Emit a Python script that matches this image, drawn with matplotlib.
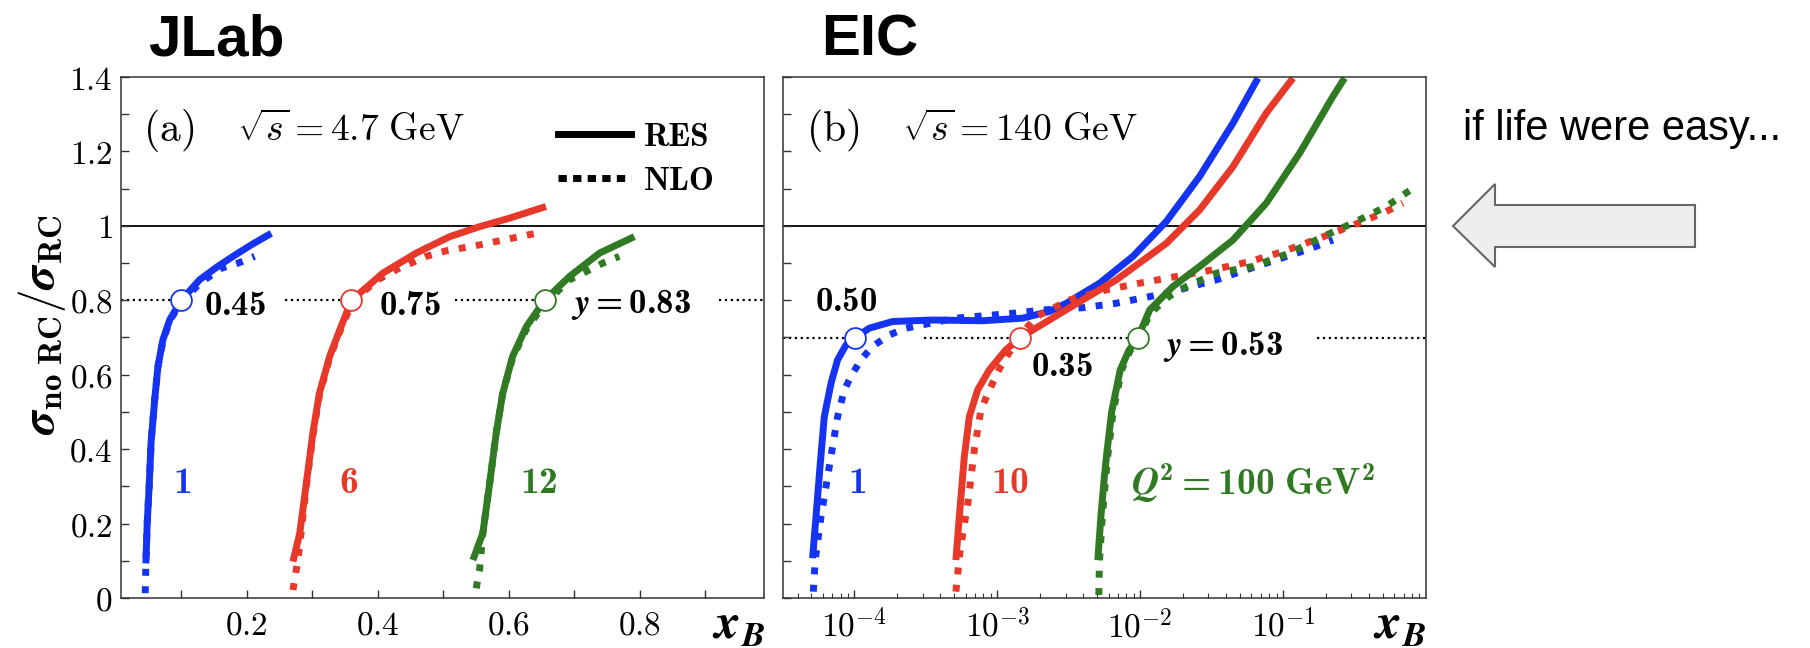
import numpy as np
import matplotlib
matplotlib.use("Agg")
import matplotlib.pyplot as plt
from matplotlib.lines import Line2D
from matplotlib.patches import Polygon
from matplotlib.ticker import FixedLocator, FuncFormatter, MultipleLocator, LogLocator, NullFormatter

plt.rcParams['mathtext.fontset'] = 'cm'
plt.rcParams['mathtext.rm'] = 'cmr10'
plt.rcParams['mathtext.it'] = 'cmmi10'
plt.rcParams['mathtext.bf'] = 'cmb10'
plt.rcParams['mathtext.bfit'] = 'STIXGeneral:italic:bold'
plt.rcParams['font.family'] = 'DejaVu Serif'

BLUE = '#1434f2'
RED = '#e8382a'
GREEN = '#2f7a22'

# ---- (a) JLab, sqrt(s) = 4.7 GeV, linear x_B
a_q2_labels = ['1', '6', '12']
a_y_labels = ['0.45', '0.75', 'y=0.83']
a_circle_x = [0.100, 0.360, 0.6548]
a_res_x = [
    [0.046, 0.048, 0.051, 0.054, 0.0594, 0.0644, 0.072, 0.0823, 0.100, 0.128, 0.155, 0.179, 0.208, 0.2375],
    [0.2706, 0.281, 0.291, 0.301, 0.311, 0.3266, 0.342, 0.360, 0.408, 0.459, 0.510, 0.556, 0.600, 0.657],
    [0.5454, 0.5606, 0.571, 0.581, 0.591, 0.606, 0.627, 0.6548, 0.693, 0.739, 0.792],
]
a_res_y = [
    [0.093, 0.20, 0.30, 0.42, 0.532, 0.622, 0.694, 0.747, 0.80, 0.855, 0.89, 0.918, 0.95, 0.98],
    [0.098, 0.174, 0.308, 0.443, 0.55, 0.649, 0.72, 0.80, 0.873, 0.927, 0.971, 0.998, 1.02, 1.052],
    [0.102, 0.174, 0.308, 0.443, 0.55, 0.649, 0.729, 0.80, 0.864, 0.927, 0.971],
]
a_nlo_x = [
    [0.045, 0.046, 0.048, 0.051, 0.054, 0.0594, 0.0644, 0.072, 0.0823, 0.100, 0.128, 0.161, 0.187, 0.212],
    [0.2706, 0.278, 0.283, 0.291, 0.301, 0.311, 0.3266, 0.342, 0.360, 0.395, 0.428, 0.474, 0.505,
     0.556, 0.600, 0.642],
    [0.5505, 0.5556, 0.5606, 0.571, 0.581, 0.591, 0.606, 0.627, 0.6548, 0.693, 0.718, 0.744, 0.769],
]
a_nlo_y = [
    [0.013, 0.093, 0.20, 0.30, 0.42, 0.532, 0.62, 0.69, 0.745, 0.795, 0.845, 0.886, 0.90, 0.918],
    [0.0215, 0.10, 0.174, 0.300, 0.435, 0.545, 0.645, 0.715, 0.79, 0.85, 0.882, 0.918, 0.933,
     0.949, 0.965, 0.98],
    [0.026, 0.075, 0.174, 0.308, 0.443, 0.55, 0.645, 0.722, 0.79, 0.855, 0.877, 0.90, 0.918],
]

# ---- (b) EIC, sqrt(s) = 140 GeV, log x_B (values given as log10 x_B)
b_q2_labels = ['1', '10', 'Q^2 = 100 GeV^2']
b_y_labels = ['0.50', '0.35', 'y=0.53']
b_circle_logx = [-3.994, -2.839, -2.016]
b_res_logx = [
    [-4.293, -4.269, -4.241, -4.211, -4.164, -4.118, -4.059, -3.994, -3.896, -3.733, -3.453, -3.103,
     -2.823, -2.636, -2.517, -2.284, -2.051, -1.817, -1.584, -1.351, -1.176],
    [-3.290, -3.266, -3.231, -3.196, -3.138, -3.056, -2.940, -2.839, -2.636, -2.403, -2.167, -1.817,
     -1.584, -1.351, -1.118, -0.931],
    [-2.297, -2.275, -2.250, -2.234, -2.200, -2.140, -2.080, -2.016, -1.934, -1.771, -1.584, -1.351,
     -1.118, -0.885, -0.651, -0.570],
]
b_res_y = [
    [0.107, 0.219, 0.353, 0.487, 0.577, 0.640, 0.680, 0.70, 0.725, 0.743, 0.747, 0.745,
     0.752, 0.770, 0.792, 0.846, 0.918, 1.012, 1.133, 1.276, 1.397],
    [0.102, 0.219, 0.38, 0.487, 0.559, 0.613, 0.667, 0.70, 0.747, 0.801, 0.855, 0.953,
     1.043, 1.159, 1.303, 1.397],
    [0.102, 0.22, 0.33, 0.389, 0.50, 0.613, 0.665, 0.70, 0.774, 0.837, 0.891, 0.962,
     1.061, 1.195, 1.348, 1.397],
]
b_nlo_logx = [
    [-4.288, -4.275, -4.234, -4.176, -4.118, -4.071, -4.025, -3.955, -3.873, -3.756, -3.640, -3.290,
     -2.893, -2.683, -2.520, -2.401, -2.167, -1.817, -1.467, -1.118, -0.838, -0.651],
    [-3.290, -3.260, -3.203, -3.161, -3.115, -3.056, -2.980, -2.900, -2.830, -2.727, -2.494, -2.237,
     -2.004, -1.747, -1.491, -1.234, -1.001, -0.745, -0.535, -0.302, -0.162],
    [-2.290, -2.285, -2.265, -2.240, -2.225, -2.190, -2.130, -2.070, -2.010, -1.930, -1.800, -1.677,
     -1.467, -1.211, -0.955, -0.721, -0.488, -0.278, -0.057],
]
b_nlo_y = [
    [0.017, 0.10, 0.219, 0.353, 0.487, 0.559, 0.595, 0.640, 0.676, 0.707, 0.725, 0.752,
     0.765, 0.774, 0.778, 0.780, 0.792, 0.819, 0.855, 0.90, 0.935, 0.962],
    [0.017, 0.13, 0.263, 0.398, 0.505, 0.559, 0.62, 0.67, 0.71, 0.756, 0.801, 0.828,
     0.846, 0.864, 0.882, 0.904, 0.931, 0.967, 0.998, 1.034, 1.061],
    [0.008, 0.10, 0.22, 0.33, 0.389, 0.50, 0.613, 0.665, 0.70, 0.765, 0.81, 0.837,
     0.873, 0.891, 0.927, 0.971, 1.012, 1.052, 1.110],
]

# dotted y-lines, broken after each circle (x ranges)
a_yline = 0.8
a_yline_segs = [(0.008, 0.100), (0.259, 0.360), (0.518, 0.6548), (0.921, 0.99)]
b_yline = 0.7
b_yline_segs = [(-4.5, -3.994), (-3.516, -2.839), (-2.594, -2.016), (-0.766, 0.0)]

colors = [BLUE, RED, GREEN]
W, H = 1810, 648
fig = plt.figure(figsize=(W / 100, H / 100), dpi=100)


def frac(x0, y0, x1, y1):
    return [x0 / W, 1 - y1 / H, (x1 - x0) / W, (y1 - y0) / H]


axa = fig.add_axes(frac(121, 77, 764, 598))
axb = fig.add_axes(frac(783, 77, 1426, 598))

dots = (0, (1.0, 1.5))

for i in range(3):
    axa.plot(a_nlo_x[i], a_nlo_y[i], color=colors[i], lw=5, linestyle=dots)
    axa.plot(a_res_x[i], a_res_y[i], color=colors[i], lw=5, solid_capstyle='butt')
    axb.plot(10 ** np.array(b_nlo_logx[i]), b_nlo_y[i], color=colors[i], lw=5, linestyle=dots)
    axb.plot(10 ** np.array(b_res_logx[i]), b_res_y[i], color=colors[i], lw=5, solid_capstyle='butt')

for x0, x1 in a_yline_segs:
    axa.plot([x0, x1], [a_yline, a_yline], color='black', lw=1.6, linestyle=':', zorder=1)
for x0, x1 in b_yline_segs:
    axb.plot([10 ** x0, 10 ** x1], [b_yline, b_yline], color='black', lw=1.6, linestyle=':', zorder=1)

for i in range(3):
    axa.plot(a_circle_x[i], a_yline, 'o', ms=15, mfc='white', mec=colors[i], mew=1.3, zorder=5)
    axb.plot(10 ** b_circle_logx[i], b_yline, 'o', ms=15, mfc='white', mec=colors[i], mew=1.3, zorder=5)

for ax in (axa, axb):
    ax.axhline(1.0, color='black', lw=1.3, zorder=1)
    ax.set_ylim(0, 1.4)
    ax.yaxis.set_major_locator(MultipleLocator(0.1))
    ax.tick_params(direction='in', which='both', top=False, right=False, color='#333333')
    ax.tick_params(which='major', length=6, width=1)
    ax.tick_params(which='minor', length=3.5, width=0.8)
    for s in ax.spines.values():
        s.set_color('#333333')
        s.set_linewidth(1.1)

# left panel axes
axa.set_xlim(0.008, 0.99)
axa.xaxis.set_major_locator(MultipleLocator(0.1))
axa.xaxis.set_major_formatter(FuncFormatter(
    lambda v, p: r'$%.1f$' % v if round(v * 10) % 2 == 0 and v > 0.05 else ''))
axa.yaxis.set_major_formatter(FuncFormatter(
    lambda v, p: '' if round(v * 10) % 2 else (r'$%g$' % round(v, 1))))
axa.tick_params(labelsize=24, pad=8)
axa.tick_params(axis='y', pad=6)

# right panel axes
axb.set_xscale('log')
axb.set_xlim(10 ** -4.5, 1.0)
axb.xaxis.set_major_locator(FixedLocator([1e-4, 1e-3, 1e-2, 1e-1]))
axb.xaxis.set_minor_locator(LogLocator(base=10, subs=np.arange(2, 10)))
axb.xaxis.set_minor_formatter(NullFormatter())
axb.xaxis.set_major_formatter(FuncFormatter(lambda v, p: r'$10^{%d}$' % round(np.log10(v))))
axb.yaxis.set_major_formatter(NullFormatter())
axb.tick_params(labelsize=24, pad=8)


# in-panel annotations (pixel positions on the figure)
def ftext(x, y, s, **kw):
    return fig.text(x / W, 1 - y / H, s, **kw)


def bold_label(s):
    if s.startswith('y='):
        return r'$\mathbfit{y}\mathbf{=%s}$' % s[2:]
    if s.startswith('Q^2'):
        return r'$\mathbfit{Q}^{\mathbf{2}}\mathbf{=100\ GeV}^{\mathbf{2}}$'
    return r'$\mathbf{%s}$' % s


ftext(143, 131, r'$(\mathrm{a})$', fontsize=30, va='center')
ftext(237, 131, r'$\sqrt{s} = 4.7\ \mathrm{GeV}$', fontsize=27, va='center')
ftext(806, 131, r'$(\mathrm{b})$', fontsize=30, va='center')
ftext(902, 131, r'$\sqrt{s} = 140\ \mathrm{GeV}$', fontsize=27, va='center')

axa.legend([Line2D([], [], color='black', lw=5),
            Line2D([], [], color='black', lw=5, linestyle=(0, (1.2, 0.9)))],
           ['RES', 'NLO'], loc='upper right', bbox_to_anchor=(0.95, 0.945), frameon=False,
           prop={'family': 'cmb10', 'size': 24}, handlelength=2.2, handletextpad=0.4,
           labelspacing=0.45, borderpad=0)

a_lab_pos = [(204, 305), (379, 305), (571, 305)]
for (x, y), s in zip(a_lab_pos, a_y_labels):
    ftext(x, y, bold_label(s), fontsize=25, va='center', math_fontfamily='custom')
b_lab_pos = [(815, 301), (1031, 366), (1163, 346)]
for (x, y), s in zip(b_lab_pos, b_y_labels):
    ftext(x, y, bold_label(s), fontsize=25, va='center', math_fontfamily='custom')

a_q2_pos = [173, 339, 520]
for i, s in enumerate(a_q2_labels):
    ftext(a_q2_pos[i], 483, bold_label(s), fontsize=27, va='center', color=colors[i],
          math_fontfamily='custom')
b_q2_pos = [848, 991, 1131]
for i, s in enumerate(b_q2_labels):
    ftext(b_q2_pos[i], 483, bold_label(s), fontsize=27, va='center', color=colors[i],
          math_fontfamily='custom')

# axis labels
ftext(42, 325, r'$\boldsymbol{\sigma}_{\mathbf{no\ RC}}/\boldsymbol{\sigma}_{\mathbf{RC}}$',
      fontsize=34, rotation=90, ha='center', va='center')
ftext(765, 638, r'$\mathbfit{x}_{\mathbfit{B}}$', fontsize=36, ha='right', va='baseline')
ftext(1426, 638, r'$\mathbfit{x}_{\mathbfit{B}}$', fontsize=36, ha='right', va='baseline')

# slide titles and side note
ftext(148, 55, 'JLab', fontsize=42, fontweight='bold', family='Liberation Sans', va='baseline')
ftext(821, 55, 'EIC', fontsize=42, fontweight='bold', family='Liberation Sans', va='baseline')
ftext(1463, 140, 'if life were easy...', fontsize=30, family='Liberation Sans', va='baseline')

arrow_x = [1453, 1495, 1495, 1695, 1695, 1495, 1495]
arrow_y = [226, 184, 205, 205, 247, 247, 267]
fig.patches.append(Polygon([(x / W, 1 - y / H) for x, y in zip(arrow_x, arrow_y)], closed=True,
                           transform=fig.transFigure, facecolor='#eeeeee', edgecolor='#666666', lw=1.5))

fig.savefig('out.png', dpi=100)
